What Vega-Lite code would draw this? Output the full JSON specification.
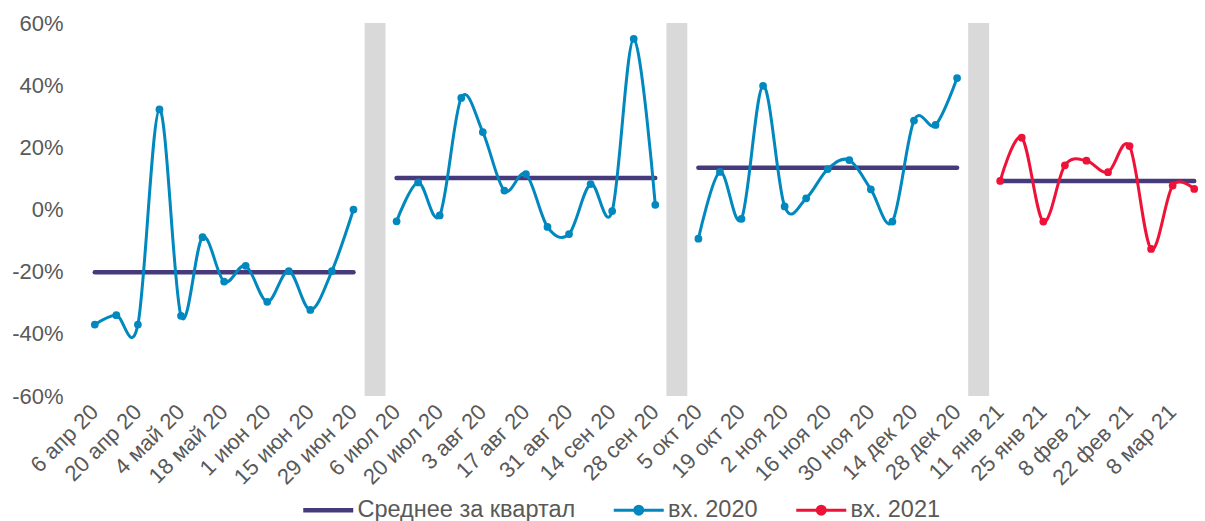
{
  "$schema": "https://vega.github.io/schema/vega-lite/v6.json",
  "width": 1121,
  "height": 373,
  "autosize": {"type": "none"},
  "padding": {"left": 84, "top": 23, "right": 0, "bottom": 125},
  "config": {
    "view": {"stroke": null},
    "font": "Liberation Sans",
    "axis": {"labelFont": "Liberation Sans", "labelColor": "#595959"},
    "legend": {"labelFont": "Liberation Sans"}
  },
  "data": {
    "values": [
      {"cat": "6 апр 20", "q": "Q2", "series": "вх. 2020", "v": -37.0, "avg": -20.2},
      {"cat": "13 апр 20", "q": "Q2", "series": "вх. 2020", "v": -34.0, "avg": -20.2},
      {"cat": "20 апр 20", "q": "Q2", "series": "вх. 2020", "v": -37.0, "avg": -20.2},
      {"cat": "27 апр 20", "q": "Q2", "series": "вх. 2020", "v": 32.2, "avg": -20.2},
      {"cat": "4 май 20", "q": "Q2", "series": "вх. 2020", "v": -34.2, "avg": -20.2},
      {"cat": "11 май 20", "q": "Q2", "series": "вх. 2020", "v": -8.9, "avg": -20.2},
      {"cat": "18 май 20", "q": "Q2", "series": "вх. 2020", "v": -23.2, "avg": -20.2},
      {"cat": "25 май 20", "q": "Q2", "series": "вх. 2020", "v": -18.1, "avg": -20.2},
      {"cat": "1 июн 20", "q": "Q2", "series": "вх. 2020", "v": -29.7, "avg": -20.2},
      {"cat": "8 июн 20", "q": "Q2", "series": "вх. 2020", "v": -19.8, "avg": -20.2},
      {"cat": "15 июн 20", "q": "Q2", "series": "вх. 2020", "v": -32.3, "avg": -20.2},
      {"cat": "22 июн 20", "q": "Q2", "series": "вх. 2020", "v": -19.8, "avg": -20.2},
      {"cat": "29 июн 20", "q": "Q2", "series": "вх. 2020", "v": 0.0, "avg": -20.2},
      {"cat": "gap1", "gap": true},
      {"cat": "6 июл 20", "q": "Q3", "series": "вх. 2020", "v": -3.8, "avg": 10.1},
      {"cat": "13 июл 20", "q": "Q3", "series": "вх. 2020", "v": 8.7, "avg": 10.1},
      {"cat": "20 июл 20", "q": "Q3", "series": "вх. 2020", "v": -1.9, "avg": 10.1},
      {"cat": "27 июл 20", "q": "Q3", "series": "вх. 2020", "v": 35.9, "avg": 10.1},
      {"cat": "3 авг 20", "q": "Q3", "series": "вх. 2020", "v": 24.9, "avg": 10.1},
      {"cat": "10 авг 20", "q": "Q3", "series": "вх. 2020", "v": 6.1, "avg": 10.1},
      {"cat": "17 авг 20", "q": "Q3", "series": "вх. 2020", "v": 11.4, "avg": 10.1},
      {"cat": "24 авг 20", "q": "Q3", "series": "вх. 2020", "v": -5.6, "avg": 10.1},
      {"cat": "31 авг 20", "q": "Q3", "series": "вх. 2020", "v": -7.9, "avg": 10.1},
      {"cat": "7 сен 20", "q": "Q3", "series": "вх. 2020", "v": 8.2, "avg": 10.1},
      {"cat": "14 сен 20", "q": "Q3", "series": "вх. 2020", "v": -0.5, "avg": 10.1},
      {"cat": "21 сен 20", "q": "Q3", "series": "вх. 2020", "v": 54.9, "avg": 10.1},
      {"cat": "28 сен 20", "q": "Q3", "series": "вх. 2020", "v": 1.5, "avg": 10.1},
      {"cat": "gap2", "gap": true},
      {"cat": "5 окт 20", "q": "Q4", "series": "вх. 2020", "v": -9.4, "avg": 13.4},
      {"cat": "12 окт 20", "q": "Q4", "series": "вх. 2020", "v": 12.1, "avg": 13.4},
      {"cat": "19 окт 20", "q": "Q4", "series": "вх. 2020", "v": -3.0, "avg": 13.4},
      {"cat": "26 окт 20", "q": "Q4", "series": "вх. 2020", "v": 39.8, "avg": 13.4},
      {"cat": "2 ноя 20", "q": "Q4", "series": "вх. 2020", "v": 1.0, "avg": 13.4},
      {"cat": "9 ноя 20", "q": "Q4", "series": "вх. 2020", "v": 3.6, "avg": 13.4},
      {"cat": "16 ноя 20", "q": "Q4", "series": "вх. 2020", "v": 13.0, "avg": 13.4},
      {"cat": "23 ноя 20", "q": "Q4", "series": "вх. 2020", "v": 15.9, "avg": 13.4},
      {"cat": "30 ноя 20", "q": "Q4", "series": "вх. 2020", "v": 6.5, "avg": 13.4},
      {"cat": "7 дек 20", "q": "Q4", "series": "вх. 2020", "v": -3.9, "avg": 13.4},
      {"cat": "14 дек 20", "q": "Q4", "series": "вх. 2020", "v": 28.6, "avg": 13.4},
      {"cat": "21 дек 20", "q": "Q4", "series": "вх. 2020", "v": 27.2, "avg": 13.4},
      {"cat": "28 дек 20", "q": "Q4", "series": "вх. 2020", "v": 42.3, "avg": 13.4},
      {"cat": "gap3", "gap": true},
      {"cat": "11 янв 21", "q": "Q1", "series": "вх. 2021", "v": 9.2, "avg": 9.2},
      {"cat": "18 янв 21", "q": "Q1", "series": "вх. 2021", "v": 23.1, "avg": 9.2},
      {"cat": "25 янв 21", "q": "Q1", "series": "вх. 2021", "v": -3.9, "avg": 9.2},
      {"cat": "1 фев 21", "q": "Q1", "series": "вх. 2021", "v": 14.2, "avg": 9.2},
      {"cat": "8 фев 21", "q": "Q1", "series": "вх. 2021", "v": 15.7, "avg": 9.2},
      {"cat": "15 фев 21", "q": "Q1", "series": "вх. 2021", "v": 12.0, "avg": 9.2},
      {"cat": "22 фев 21", "q": "Q1", "series": "вх. 2021", "v": 20.4, "avg": 9.2},
      {"cat": "1 мар 21", "q": "Q1", "series": "вх. 2021", "v": -12.7, "avg": 9.2},
      {"cat": "8 мар 21", "q": "Q1", "series": "вх. 2021", "v": 7.7, "avg": 9.2},
      {"cat": "15 мар 21", "q": "Q1", "series": "вх. 2021", "v": 6.6, "avg": 9.2}
    ]
  },
  "encoding": {
    "x": {
      "field": "cat",
      "type": "nominal",
      "sort": null,
      "scale": {
        "type": "band",
        "paddingInner": 0,
        "paddingOuter": 0,
        "domain": ["6 апр 20", "13 апр 20", "20 апр 20", "27 апр 20", "4 май 20", "11 май 20", "18 май 20", "25 май 20", "1 июн 20", "8 июн 20", "15 июн 20", "22 июн 20", "29 июн 20", "gap1", "6 июл 20", "13 июл 20", "20 июл 20", "27 июл 20", "3 авг 20", "10 авг 20", "17 авг 20", "24 авг 20", "31 авг 20", "7 сен 20", "14 сен 20", "21 сен 20", "28 сен 20", "gap2", "5 окт 20", "12 окт 20", "19 окт 20", "26 окт 20", "2 ноя 20", "9 ноя 20", "16 ноя 20", "23 ноя 20", "30 ноя 20", "7 дек 20", "14 дек 20", "21 дек 20", "28 дек 20", "gap3", "11 янв 21", "18 янв 21", "25 янв 21", "1 фев 21", "8 фев 21", "15 фев 21", "22 фев 21", "1 мар 21", "8 мар 21", "15 мар 21"]
      },
      "axis": {
        "title": null,
        "values": ["6 апр 20", "20 апр 20", "4 май 20", "18 май 20", "1 июн 20", "15 июн 20", "29 июн 20", "6 июл 20", "20 июл 20", "3 авг 20", "17 авг 20", "31 авг 20", "14 сен 20", "28 сен 20", "5 окт 20", "19 окт 20", "2 ноя 20", "16 ноя 20", "30 ноя 20", "14 дек 20", "28 дек 20", "11 янв 21", "25 янв 21", "8 фев 21", "22 фев 21", "8 мар 21"],
        "labelAngle": -45,
        "labelAlign": "right",
        "labelBaseline": "middle",
        "labelFontSize": 22,
        "labelPadding": 12,
        "ticks": false,
        "domain": false,
        "grid": false,
        "labelOverlap": false
      }
    }
  },
  "layer": [
    {
      "transform": [{"filter": "datum.gap === true"}],
      "mark": {"type": "bar", "color": "#d9d9d9", "width": {"band": 0.97}},
      "encoding": {
        "y": {"datum": -60, "type": "quantitative"},
        "y2": {"datum": 60}
      }
    },
    {
      "mark": {"type": "rule", "color": "#000000", "strokeWidth": 1.6},
      "encoding": {"y": {"datum": 0, "type": "quantitative"}}
    },
    {
      "transform": [{"filter": "datum.avg != null"}],
      "mark": {"type": "line", "strokeWidth": 4.5, "strokeCap": "round"},
      "encoding": {
        "y": {"field": "avg", "type": "quantitative"},
        "detail": {"field": "q"},
        "color": {"datum": "Среднее за квартал"}
      }
    },
    {
      "transform": [{"filter": "datum.v != null"}],
      "mark": {"type": "line", "strokeWidth": 3, "interpolate": "cardinal"},
      "encoding": {
        "y": {
          "field": "v",
          "type": "quantitative",
          "scale": {"domain": [-60, 60], "nice": false},
          "axis": {
            "title": null,
            "values": [-60, -40, -20, 0, 20, 40, 60],
            "labelExpr": "datum.value + '%'",
            "labelFontSize": 22,
            "labelPadding": 21,
            "ticks": false,
            "domain": false,
            "gridColor": "#d9d9d9",
            "gridWidth": 1.3
          }
        },
        "detail": {"field": "q"},
        "color": {
          "field": "series",
          "type": "nominal",
          "scale": {
            "domain": ["Среднее за квартал", "вх. 2020", "вх. 2021"],
            "range": ["#463a7d", "#0088bf", "#ee1238"]
          },
          "legend": {
            "title": null,
            "orient": "none",
            "legendX": 232.5,
            "legendY": 475,
            "direction": "horizontal",
            "symbolType": "M-1,0H1",
            "symbolSize": 2500,
            "symbolStrokeWidth": 4,
            "labelFontSize": 23.5,
            "labelColor": "#595959",
            "labelOffset": 17.5,
            "labelLimit": 400,
            "columnPadding": 31.5,
            "encode": {
              "symbols": {
                "update": {
                  "shape": {"signal": "datum.value === 'Среднее за квартал' ? 'M-1,0H1' : 'M-1,0H1M0.16,0A0.16,0.16 0 1 1 -0.16,0A0.16,0.16 0 1 1 0.16,0'"},
                  "fill": {"scale": "color", "field": "value"},
                  "strokeWidth": {"signal": "datum.value === 'Среднее за квартал' ? 4.5 : 3"}
                }
              }
            }
          }
        }
      }
    },
    {
      "transform": [{"filter": "datum.v != null"}],
      "mark": {"type": "point", "filled": true, "size": 60, "opacity": 1},
      "encoding": {
        "y": {"field": "v", "type": "quantitative"},
        "color": {"field": "series", "type": "nominal", "legend": null}
      }
    }
  ]
}
